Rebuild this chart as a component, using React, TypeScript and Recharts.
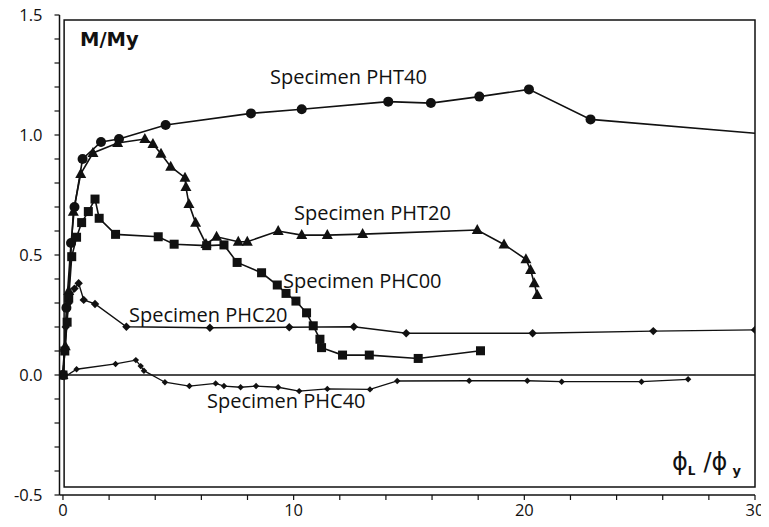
import {
  LineChart,
  Line,
  XAxis,
  YAxis,
  ReferenceLine,
  ReferenceArea,
} from 'recharts';

// [rotation ratio, M/My] pairs per specimen
const pht40: [number, number][] = [
  [0, 0], [0.15, 0.28], [0.35, 0.55], [0.5, 0.7], [0.85, 0.9], [1.65, 0.971],
  [2.43, 0.983], [4.45, 1.042], [8.15, 1.09], [10.35, 1.107], [14.1, 1.139],
  [15.95, 1.133], [18.05, 1.16], [20.2, 1.19], [22.87, 1.065], [30, 1.007],
];

const pht20: [number, number][] = [
  [0, 0], [0.1, 0.12], [0.25, 0.35], [0.45, 0.68], [0.77, 0.838], [1.3, 0.925],
  [2.37, 0.967], [3.55, 0.983], [3.9, 0.963], [4.25, 0.922], [4.67, 0.868],
  [5.29, 0.822], [5.33, 0.783], [5.46, 0.713], [5.75, 0.634], [6.2, 0.546],
  [6.66, 0.576], [7.6, 0.555], [7.99, 0.555], [9.33, 0.6], [10.35, 0.583],
  [11.46, 0.583], [12.99, 0.587], [17.96, 0.604], [19.12, 0.544], [20.07, 0.482],
  [20.27, 0.438], [20.43, 0.382], [20.56, 0.333],
];

const phc00: [number, number][] = [
  [0, 0], [0.08, 0.1], [0.18, 0.22], [0.25, 0.32], [0.38, 0.493], [0.59, 0.574],
  [0.81, 0.635], [1.1, 0.681], [1.39, 0.733], [1.57, 0.653], [2.28, 0.586],
  [4.13, 0.576], [4.82, 0.545], [6.23, 0.539], [6.98, 0.542], [7.55, 0.469],
  [8.61, 0.426], [9.29, 0.375], [9.67, 0.34], [10.1, 0.308], [10.56, 0.259],
  [10.85, 0.205], [11.14, 0.149], [11.21, 0.114], [12.12, 0.083], [13.28, 0.083],
  [15.4, 0.069], [18.1, 0.101],
];

const phc20: [number, number][] = [
  [0, 0], [0.05, 0.1], [0.12, 0.2], [0.25, 0.3], [0.5, 0.36], [0.68, 0.382],
  [0.9, 0.313], [1.39, 0.296], [2.75, 0.201], [6.37, 0.197], [9.81, 0.199],
  [12.61, 0.201], [14.88, 0.174], [20.36, 0.174], [25.59, 0.183], [30, 0.188],
];

const phc40: [number, number][] = [
  [0, 0], [0.05, -0.01], [0.59, 0.024], [2.28, 0.046], [3.16, 0.062], [3.37, 0.037],
  [3.51, 0.018], [4.42, -0.03], [5.48, -0.046], [6.62, -0.035], [6.98, -0.046],
  [7.7, -0.051], [8.37, -0.046], [9.33, -0.051], [10.24, -0.067], [11.46, -0.058],
  [13.31, -0.06], [14.49, -0.025], [17.61, -0.024], [20.13, -0.024], [21.62, -0.028],
  [25.08, -0.028], [27.1, -0.018],
];

const xTicks = [0, 2, 4, 6, 8, 10, 12, 14, 16, 18, 20, 22, 24, 26, 28, 30];
const xLabels = [0, 10, 20, 30];
const yTicks = [
  -0.5, -0.4, -0.3, -0.2, -0.1, 0, 0.1, 0.2, 0.3, 0.4, 0.5, 0.6, 0.7, 0.8, 0.9,
  1.0, 1.1, 1.2, 1.3, 1.4, 1.5,
];
const yLabels = ['-0.5', '0.0', '0.5', '1.0', '1.5'];

const toRows = (pts: [number, number][]) => pts.map(([x, y]) => ({ x, y }));

const FONT = '"Open Sans", "DejaVu Sans", sans-serif';
const INK = '#111';

const XTick = (props: any) => {
  const { x, y, payload } = props;
  const v = payload.value;
  if (!xLabels.includes(v)) return <g />;
  return (
    <text x={x} y={y} dy="0.71em" textAnchor="middle" fontSize={16.5} fontFamily={FONT} fill={INK}>
      {v}
    </text>
  );
};

const YTick = (props: any) => {
  const { x, y, payload } = props;
  const label = payload.value.toFixed(1);
  if (!yLabels.includes(label)) return <g />;
  return (
    <text x={x} y={y} dy="0.36em" textAnchor="end" fontSize={16.5} fontFamily={FONT} fill={INK}>
      {label}
    </text>
  );
};

const circleDot = (skipLast: number) => (p: any) => {
  if (p.cx == null || p.index === skipLast) return <g key={`c${p.index}`} />;
  return <circle key={`c${p.index}`} cx={p.cx} cy={p.cy} r={5} fill={INK} />;
};

const triangleDot = (p: any) => {
  const { cx, cy, index } = p;
  return (
    <polygon
      key={`t${index}`}
      points={`${cx},${cy - 6} ${cx - 5.5},${cy + 4} ${cx + 5.5},${cy + 4}`}
      fill={INK}
    />
  );
};

const squareDot = (p: any) => (
  <rect key={`s${p.index}`} x={p.cx - 4.5} y={p.cy - 4.5} width={9} height={9} fill={INK} />
);

const diamondDot = (size: number) => (p: any) => {
  const { cx, cy, index } = p;
  return (
    <polygon
      key={`d${index}`}
      points={`${cx},${cy - size} ${cx + size},${cy} ${cx},${cy + size} ${cx - size},${cy}`}
      fill={INK}
    />
  );
};

const W = 761;
const H = 527;

export default function App() {
  return (
    <div style={{ position: 'relative', width: W, height: H, marginTop: -8 }}>
      <LineChart width={W} height={H} margin={{ top: 15, right: 14, bottom: 0, left: 6.5 }}>
        <XAxis
          dataKey="x"
          type="number"
          domain={[-0.15, 30]}
          allowDataOverflow
          ticks={xTicks}
          interval={0}
          tick={<XTick />}
          tickSize={5}
          tickMargin={4}
          height={32}
          axisLine={{ stroke: INK, strokeWidth: 1.5 }}
          tickLine={{ stroke: INK, strokeWidth: 1.2 }}
        />
        <YAxis
          type="number"
          domain={[-0.5, 1.5]}
          allowDataOverflow
          ticks={yTicks}
          interval={0}
          tick={<YTick />}
          tickSize={5}
          tickMargin={12}
          width={45}
          axisLine={{ stroke: INK, strokeWidth: 1.5 }}
          tickLine={{ stroke: INK, strokeWidth: 1.2 }}
        />
        <ReferenceArea
          x1={0.05}
          x2={30}
          y1={-0.467}
          y2={1.479}
          fill="none"
          stroke={INK}
          strokeWidth={1.5}
          fillOpacity={0}
        />
        <ReferenceLine
          segment={[{ x: 0.05, y: 0 }, { x: 30, y: 0 }]}
          stroke={INK}
          strokeWidth={1.5}
        />
        <Line
          data={toRows(pht40)}
          dataKey="y"
          stroke={INK}
          strokeWidth={1.6}
          dot={circleDot(pht40.length - 1)}
          isAnimationActive={false}
        />
        <Line
          data={toRows(pht20)}
          dataKey="y"
          stroke={INK}
          strokeWidth={1.6}
          dot={triangleDot}
          isAnimationActive={false}
        />
        <Line
          data={toRows(phc00)}
          dataKey="y"
          stroke={INK}
          strokeWidth={1.6}
          dot={squareDot}
          isAnimationActive={false}
        />
        <Line
          data={toRows(phc20)}
          dataKey="y"
          stroke={INK}
          strokeWidth={1.4}
          dot={diamondDot(4.2)}
          isAnimationActive={false}
        />
        <Line
          data={toRows(phc40)}
          dataKey="y"
          stroke={INK}
          strokeWidth={1.3}
          dot={diamondDot(3.2)}
          isAnimationActive={false}
        />
      </LineChart>
      <svg
        width={W}
        height={H}
        style={{ position: 'absolute', left: 0, top: 0, pointerEvents: 'none' }}
      >
        <text x={72} y={46} fontSize={19.5} fontWeight={900} fontFamily="'DejaVu Sans', sans-serif" fill={INK}>
          M/My
        </text>
        <g fontFamily={FONT} fontSize={20} fill={INK}>
          <text x={262} y={84}>Specimen PHT40</text>
          <text x={286} y={220}>Specimen PHT20</text>
          <text x={275} y={288}>Specimen PHC00</text>
          <text x={121} y={322}>Specimen PHC20</text>
          <text x={199} y={408}>Specimen PHC40</text>
        </g>
        <text x={664} y={470} fontSize={24} fontFamily="'DejaVu Sans', sans-serif" fill={INK}>
          ϕ
          <tspan fontSize={12} fontWeight={700} dy={5}>L</tspan>
          <tspan dx={8} dy={-5}>/ϕ</tspan>
          <tspan fontSize={13} fontWeight={700} dx={5} dy={5}>y</tspan>
        </text>
      </svg>
    </div>
  );
}
